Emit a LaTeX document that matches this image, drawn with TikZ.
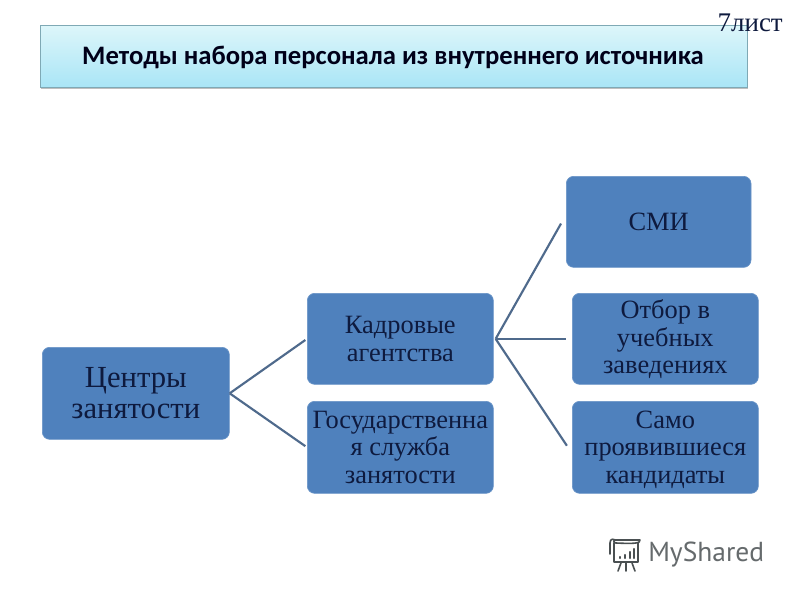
\documentclass[tikz,border=0pt]{standalone}
\usepackage{fontspec}
\setmainfont{Liberation Serif}
\newfontfamily\titlefont{Carlito}
\newfontfamily\logofont{PT Sans}
\definecolor{boxblue}{HTML}{4F81BD}
\definecolor{inktext}{HTML}{0E1A3E}
\definecolor{linkblue}{HTML}{4F6A8C}
\definecolor{logogrey}{HTML}{4A5052}
\definecolor{titletop}{HTML}{DDF6FA}
\definecolor{titlebot}{HTML}{A9E5F6}
\definecolor{titleedge}{HTML}{7FA9B5}
\newcommand{\fs}[2]{\fontsize{#1}{#2}\selectfont}
\tikzset{
  x=0.75pt,y=-0.75pt,
  bluebox/.style={draw=boxblue!85!white,line width=0.5pt,fill=boxblue,rounded corners=5.5pt,inner sep=0pt,align=center,text=inktext,font=\fs{19.8}{20.7}},
  link/.style={draw=linkblue,line width=1.6pt,shorten >=1.5pt},
  logoline/.style={draw=logogrey,line width=1.2pt,line cap=round,line join=round},
}
\begin{document}
\begin{tikzpicture}
\useasboundingbox (0,0) rectangle (800,600);
\fill[white] (0,0) rectangle (800,600);
% title
\fill[black!50,opacity=0.5] (41,28) rectangle (748,89);
\node[minimum width=530.25pt,minimum height=46.5pt,inner sep=0pt,draw=titleedge,line width=0.5pt,
  top color=titletop,bottom color=titlebot,anchor=north west] (title) at (40,25) {};
\node[font=\titlefont\bfseries\fs{20}{24},text=black!90!blue] (titletext) at (393,57) {Методы набора персонала из внутреннего источника};
\node[font=\fs{20.2}{24},text=inktext,anchor=east,inner sep=0pt] (sheet) at (783,23) {7лист};
% boxes
\node[bluebox,font=\fs{23}{23.4},minimum width=140.25pt,minimum height=69pt,anchor=north west] (centers) at (42,347) {Центры\\занятости};
\node[bluebox,minimum width=139.5pt,minimum height=68.25pt,anchor=north west] (agency) at (307,293) {Кадровые\\агентства};
\node[bluebox,minimum width=139.5pt,minimum height=69pt,anchor=north west] (state) at (307,401) {Государственна\\я служба\\занятости};
\node[bluebox,minimum width=138.5pt,minimum height=68.25pt,anchor=north west] (media) at (566,176) {СМИ};
\node[bluebox,minimum width=139.5pt,minimum height=68.25pt,anchor=north west] (edu) at (572,293) {\rule{0pt}{15pt}Отбор в\\учебных\\заведениях};
\node[bluebox,minimum width=139.5pt,minimum height=69pt,anchor=north west] (self) at (572,401) {\rule{0pt}{16.5pt}Само\\проявившиеся\\кандидаты};
% links
\draw[link] (centers.east) -- (agency.west);
\draw[link] (centers.east) -- (state.west);
\draw[link] ([xshift=1.5pt]agency.east) -- ([xshift=-3pt]media.west);
\draw[link] ([xshift=1.5pt]agency.east) -- ([xshift=-3pt]edu.west);
\draw[link] ([xshift=1.5pt]agency.east) -- ([xshift=-3pt]self.west);
% logo
\draw[logoline] (614,543) -- (614,562) -- (638,562) -- (638,543);
\draw[logoline] (610,554) -- (610,543) .. controls (610,538) and (614,539) .. (616,540) -- (640,540) .. controls (640,543) and (637,544) .. (616,543) .. controls (613,543) and (613,540) .. (616,540);
\draw[logoline,line width=1.8pt] (620,558) -- (620,557) (625,558) -- (625,555) (630,558) -- (630,552) (634,558) -- (634,549);
\draw[logoline] (621,563) -- (618,571) (626,563) -- (626,571) (632,563) -- (635,571);
\node[font=\logofont\fs{20.6}{24},text=logogrey!85!white,anchor=west,inner sep=0pt] (logotext) at (648,555) {MyShared};
\end{tikzpicture}
\end{document}
